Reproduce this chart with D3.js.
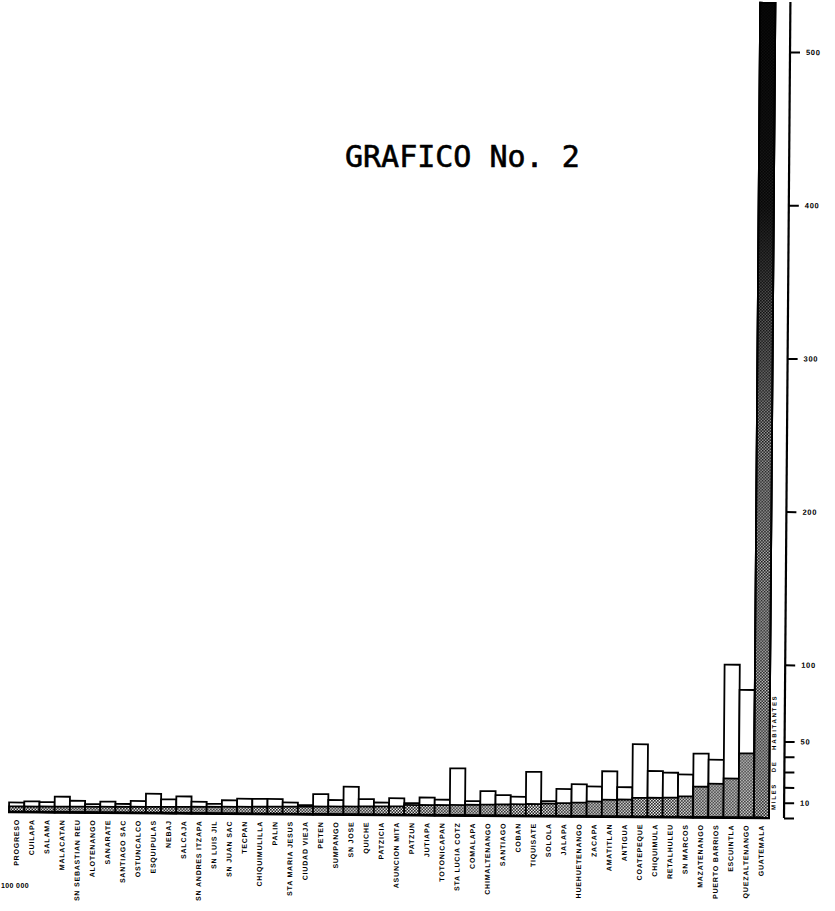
<!DOCTYPE html>
<html>
<head>
<meta charset="utf-8">
<script src="https://cdn.jsdelivr.net/npm/d3@7"></script>
<style>
  html, body { margin: 0; padding: 0; background: #fff; }
  svg { display: block; }
</style>
</head>
<body>
<div id="chart"></div>
<script>
// ---- data (thousands of inhabitants) ----
const categories = [
  "PROGRESO","CUILAPA","SALAMA","MALACATAN","SN SEBASTIAN REU","ALOTENANGO","SANARATE",
  "SANTIAGO SAC","OSTUNCALCO","ESQUIPULAS","NEBAJ","SALCAJA","SN ANDRES ITZAPA","SN LUIS JIL",
  "SN JUAN SAC","TECPAN","CHIQUIMULILLA","PALIN","STA MARIA JESUS","CIUDAD VIEJA","PETEN",
  "SUMPANGO","SN JOSE","QUICHE","PATZICIA","ASUNCION MITA","PATZUN","JUTIAPA","TOTONICAPAN",
  "STA LUCIA COTZ","COMALAPA","CHIMALTENANGO","SANTIAGO","COBAN","TIQUISATE","SOLOLA","JALAPA",
  "HUEHUETENANGO","ZACAPA","AMATITLAN","ANTIGUA","COATEPEQUE","CHIQUIMULA","RETALHULEU",
  "SN MARCOS","MAZATENANGO","PUERTO BARRIOS","ESCUINTLA","QUEZALTENANGO","GUATEMALA"
];
const totalValues = [
  6.2, 7.0, 6.6, 10.2, 7.6, 5.5, 7.2,
  5.8, 7.8, 12.6, 9.0, 11.0, 7.6, 6.3,
  8.7, 9.8, 9.8, 9.8, 7.6, 5.9, 13.2,
  9.4, 18.2, 10.2, 8.0, 10.9, 7.8, 11.5, 10.2,
  30.7, 9.4, 16.0, 13.5, 12.5, 28.8, 9.8, 17.8,
  21.0, 19.6, 29.6, 19.3, 47.4, 30.0, 29.0,
  27.9, 41.6, 37.7, 99.8, 83.4, 532
];
const hatchedValues = [
  3.6, 3.6, 3.7, 3.7, 3.8, 3.8, 3.9,
  3.9, 4.0, 4.0, 4.1, 4.2, 4.3, 4.4,
  4.5, 4.6, 4.7, 4.8, 4.9, 5.0, 5.1,
  5.2, 5.3, 5.4, 5.5, 5.6, 6.6, 6.6, 6.7,
  6.8, 7.0, 7.2, 7.4, 7.6, 7.8, 8.2, 8.6,
  9.0, 9.8, 11.0, 11.2, 12.4, 12.5, 12.7,
  13.6, 20.0, 22.0, 25.5, 42.0, 532
];
const axisTicks = [0, 10, 20, 30, 40, 50, 100, 200, 300, 400, 500];
const axisLabels = [10, 50, 100, 200, 300, 400, 500];
const titleText = "GRAFICO No. 2";
const unitText = "MILES  DE  HABITANTES";
const cornerText = "100 000";

// ---- layout ----
const W = 835, H = 911;
const svg = d3.select("#chart").append("svg").attr("width", W).attr("height", H);

const defs = svg.append("defs");
const pat = defs.append("pattern")
  .attr("id", "hatch").attr("patternUnits", "userSpaceOnUse")
  .attr("width", 3).attr("height", 3);
pat.append("rect").attr("width", 3).attr("height", 3).attr("fill", "#fff");
pat.append("rect").attr("x", 0).attr("y", 0).attr("width", 1.6).attr("height", 1.6).attr("fill", "#111");
pat.append("rect").attr("x", 1.5).attr("y", 1.5).attr("width", 1.6).attr("height", 1.6).attr("fill", "#111");

const grad = defs.append("linearGradient").attr("id", "darken")
  .attr("x1", 0).attr("y1", 1).attr("x2", 0).attr("y2", 0);
grad.append("stop").attr("offset", "0%").attr("stop-color", "#000").attr("stop-opacity", 0.1);
grad.append("stop").attr("offset", "45%").attr("stop-color", "#000").attr("stop-opacity", 0.3);
grad.append("stop").attr("offset", "62%").attr("stop-color", "#000").attr("stop-opacity", 0.6);
grad.append("stop").attr("offset", "75%").attr("stop-color", "#000").attr("stop-opacity", 0.88);
grad.append("stop").attr("offset", "100%").attr("stop-color", "#000").attr("stop-opacity", 0.96);

const x = d3.scaleBand().domain(categories).range([9, 769]).padding(0);
const y = d3.scaleLinear().domain([0, 500]).range([818, 52]);

const data = categories.map((c, i) => ({ c, total: totalValues[i], hatched: hatchedValues[i] }));

// slight scan tilt of the original sheet
const g = svg.append("g").attr("transform", "rotate(0.45, 784, 818)");

// white (total) bars
g.selectAll("rect.total").data(data).enter().append("rect")
  .attr("class", "total")
  .attr("x", d => x(d.c))
  .attr("width", x.bandwidth())
  .attr("y", d => y(d.total))
  .attr("height", d => y(0) - y(d.total))
  .attr("fill", "#fff").attr("stroke", "#000").attr("stroke-width", 1.8);

// hatched bars
g.selectAll("rect.hatched").data(data).enter().append("rect")
  .attr("class", "hatched")
  .attr("x", d => x(d.c))
  .attr("width", x.bandwidth())
  .attr("y", d => y(d.hatched))
  .attr("height", d => y(0) - y(d.hatched))
  .attr("fill", "url(#hatch)").attr("stroke", "#000").attr("stroke-width", 1.8);

// darkening of the tallest bar (printing)
const big = data.filter(d => d.total > 200);
g.selectAll("rect.dark").data(big).enter().append("rect")
  .attr("class", "dark")
  .attr("x", d => x(d.c))
  .attr("width", x.bandwidth())
  .attr("y", d => y(d.total))
  .attr("height", d => y(0) - y(d.total))
  .attr("fill", "url(#darken)").attr("stroke", "#000").attr("stroke-width", 1.8);

// base line
g.append("line").attr("x1", x.range()[0] - 1).attr("x2", x.range()[1] + 1)
  .attr("y1", y(0)).attr("y2", y(0)).attr("stroke", "#000").attr("stroke-width", 2.8);

// category labels
g.selectAll("text.cat").data(data).enter().append("text")
  .attr("class", "cat")
  .attr("transform", d => `translate(${x(d.c) + x.bandwidth() / 2 + 2.5},${y(0) + 7}) rotate(-90)`)
  .attr("text-anchor", "end")
  .attr("font-family", "Liberation Sans, Arial, sans-serif")
  .attr("font-weight", "bold")
  .attr("font-size", 7)
  .attr("letter-spacing", 0.8)
  .attr("fill", "#000")
  .text(d => d.c);

// right axis
const axis = d3.axisRight(y).tickValues(axisTicks).tickSize(10).tickPadding(6)
  .tickFormat(d => axisLabels.includes(d) ? d : "");
const ag = g.append("g").attr("transform", "translate(784,0)").call(axis);
ag.select(".domain").attr("d", `M0,${y(0)}V2`).attr("stroke", "#000").attr("stroke-width", 2.2).attr("fill", "none");
ag.selectAll(".tick line").attr("stroke", "#000").attr("stroke-width", 2);
ag.selectAll(".tick text")
  .attr("font-family", "Liberation Sans, Arial, sans-serif")
  .attr("font-weight", "bold").attr("font-size", 7.5).attr("letter-spacing", 0.7)
  .attr("fill", "#000");

// unit label
g.append("text")
  .attr("transform", `translate(775.5,${y(0) - 8}) rotate(-90)`)
  .attr("text-anchor", "start")
  .attr("font-family", "Liberation Sans, Arial, sans-serif")
  .attr("font-weight", "bold").attr("font-size", 6)
  .attr("letter-spacing", 1.7).attr("word-spacing", 2)
  .attr("xml:space", "preserve")
  .style("white-space", "pre")
  .attr("fill", "#000")
  .text(unitText);

// title
svg.append("text")
  .attr("x", 345).attr("y", 167)
  .attr("font-family", "DejaVu Sans Mono, monospace")
  .attr("font-size", 30)
  .attr("fill", "#000").attr("stroke", "#000").attr("stroke-width", 0.6)
  .text(titleText);

// cut-off corner note
svg.append("text")
  .attr("x", 29).attr("y", 888)
  .attr("text-anchor", "end")
  .attr("font-family", "Liberation Sans, Arial, sans-serif")
  .attr("font-weight", "bold").attr("font-size", 7).attr("letter-spacing", 0.4)
  .attr("fill", "#000")
  .text(cornerText);
</script>
</body>
</html>
